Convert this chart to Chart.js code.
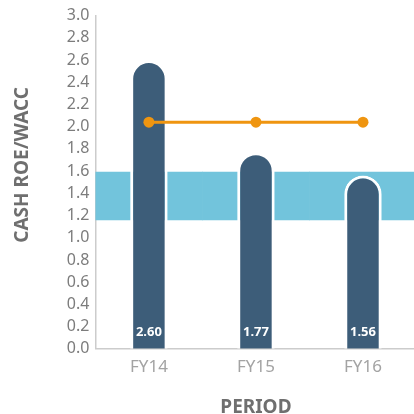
<!DOCTYPE html>
<html>
<head>
<meta charset="utf-8">
<script src="https://cdn.jsdelivr.net/npm/chart.js@4.4.0/dist/chart.umd.min.js"></script>
<style>
  html, body { margin: 0; padding: 0; background: #fff; overflow: hidden; }
  #wrap { width: 422px; height: 414px; }
</style>
</head>
<body>
<div id="wrap"><canvas id="chart" width="422" height="414"></canvas></div>
<script>
// values
const periods = ['FY14', 'FY15', 'FY16'];
const cashRoeWacc = [2.60, 1.77, 1.56];
const targetLine = [2.04, 2.04, 2.04];
const bandLow = 1.16;
const bandHigh = 1.59;

const FONT = "'Noto Sans', sans-serif";

// white value labels near the foot of each bar
const barLabels = {
  id: 'barLabels',
  afterDatasetsDraw(chart) {
    const meta = chart.getDatasetMeta(1);
    const ctx = chart.ctx;
    const bottom = chart.scales.y.getPixelForValue(0);
    ctx.save();
    ctx.fillStyle = '#ffffff';
    ctx.font = 'bold 13px ' + FONT;
    ctx.textAlign = 'center';
    ctx.textBaseline = 'middle';
    meta.data.forEach((bar, i) => {
      ctx.fillText(cashRoeWacc[i].toFixed(2), bar.x, bottom - 17);
    });
    ctx.restore();
  }
};

new Chart(document.getElementById('chart'), {
  data: {
    labels: periods,
    datasets: [
      {
        type: 'line',
        data: targetLine,
        borderColor: '#ef9510',
        backgroundColor: '#ef9510',
        borderWidth: 3,
        pointRadius: 5.5,
        pointBorderWidth: 0,
        order: 0
      },
      {
        type: 'bar',
        data: cashRoeWacc,
        backgroundColor: '#3d5d79',
        borderColor: '#ffffff',
        borderWidth: 3,
        borderSkipped: 'start',
        borderRadius: { topLeft: 19, topRight: 19, bottomLeft: 0, bottomRight: 0 },
        barPercentage: 0.35,
        categoryPercentage: 1,
        grouped: false,
        order: 1
      },
      {
        type: 'bar',
        data: periods.map(() => [bandLow, bandHigh]),
        backgroundColor: '#72c4dc',
        borderWidth: 0,
        barPercentage: 1,
        categoryPercentage: 1,
        grouped: false,
        order: 2
      }
    ]
  },
  options: {
    responsive: false,
    animation: false,
    layout: { padding: { top: 13, left: 11, right: 0, bottom: 0 } },
    plugins: { legend: { display: false }, tooltip: { enabled: false } },
    scales: {
      x: {
        offset: true,
        grid: { display: false, drawTicks: false },
        border: { color: '#cccccc', width: 1.5 },
        ticks: { color: '#a3a3a3', font: { family: FONT, size: 17 }, padding: 8 },
        title: { display: true, text: 'PERIOD', color: '#6f6f6f', font: { family: FONT, size: 19, weight: 'bold' }, padding: { top: 11, bottom: -5 } }
      },
      y: {
        min: 0,
        max: 3,
        grid: { display: false, drawTicks: false },
        border: { color: '#cccccc', width: 1.5 },
        ticks: {
          stepSize: 0.2,
          autoSkip: false,
          color: '#7c7c7c',
          font: { family: FONT, size: 16 },
          padding: 6,
          callback: v => v.toFixed(1)
        },
        title: {
          display: true,
          text: '\u00a0'.repeat(7) + 'CASH ROE/WACC',
          color: '#6f6f6f',
          font: { family: FONT, size: 19, weight: 'bold' },
          padding: { top: 0, bottom: 27 }
        }
      }
    }
  },
  plugins: [barLabels]
});
</script>
</body>
</html>
